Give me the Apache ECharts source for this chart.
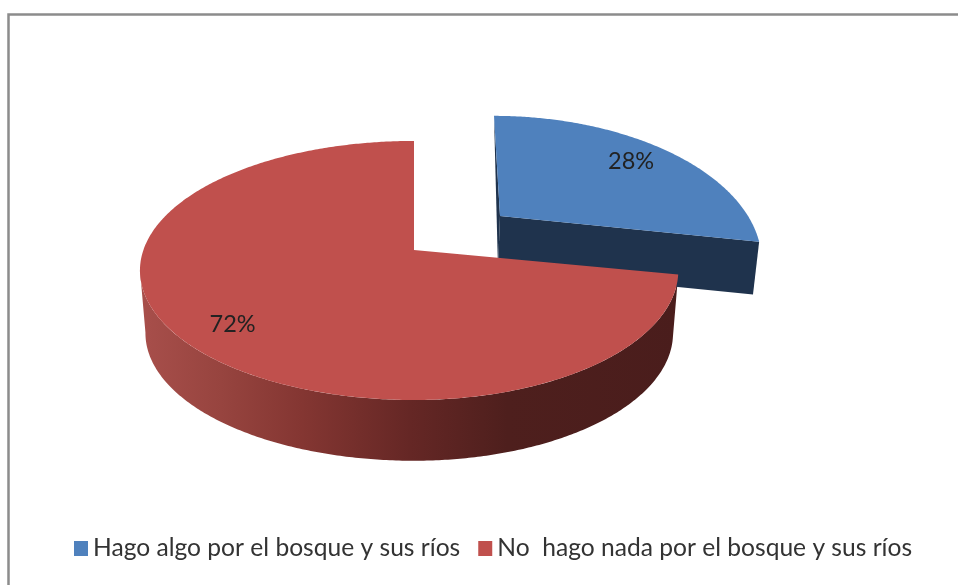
<!DOCTYPE html>
<html><head><meta charset="utf-8">
<style>html,body{margin:0;padding:0;background:#fff}#c{width:958px;height:585px}</style>
<script src="https://cdn.jsdelivr.net/npm/echarts@6/dist/echarts.min.js"></script>
</head><body><div id="c"></div>
<script>
var categories = ['Hago algo por el bosque y sus ríos', 'No  hago nada por el bosque y sus ríos'];
var values = [28, 72];
var labels = ['28%', '72%'];
var colors = ['#4f81bd', '#c0504d'];

// Projection of each slice's disc (layout only; angles come from values)
var discs = [
  {ax:500, ay:216, a:130, k:0.298, bL:248, bR:248, skew:-6, depth:53, dx:-2, sx:0.984, labelR:0.81},
  {ax:414, ay:250, a:126.3, k:0.158, bL:270.6, bR:261, skew:0, depth:63, dx:0, sx:0.98, labelR:0.80}
];
var total = values.reduce(function(s,v){return s+v;},0);
var starts = [], acc = 0;
values.forEach(function(v){ starts.push(acc/total*Math.PI*2); acc += v; });

function rim(d, t, r, lower){
  var u = Math.sin(t)*r, v = Math.cos(t)*r, w = 1 + d.k*v;
  var x = (u<0?d.bL:d.bR)*u/w + d.skew*v, y = -d.a*v/w;
  if(lower){ return [d.ax + d.dx + x*d.sx, d.ay + d.depth + y*0.985]; }
  return [d.ax + x, d.ay + y];
}
function arc(d, t0, t1, lower){
  var pts = [], n = Math.max(2, Math.ceil(Math.abs(t1-t0)/0.01));
  for(var i=0;i<=n;i++){ pts.push(rim(d, t0+(t1-t0)*i/n, 1, lower)); }
  return pts;
}
function poly(points, fill, z){
  return {type:'polygon', z2:z, shape:{points:points}, style:{fill:fill, stroke:null}};
}
function label(i){
  var d = discs[i], mid = starts[i] + values[i]/total*Math.PI;
  var p = rim(d, mid, d.labelR);
  return {type:'text', z2:10, style:{x:p[0], y:p[1] + 4, text:labels[i], align:'center', verticalAlign:'middle',
    font:'23.5px Lato', fill:'#222'}};
}
var redWall = new echarts.graphic.LinearGradient(140,0,680,0,[
  {offset:0,color:'#a84f4b'},{offset:0.15,color:'#97443f'},{offset:0.3,color:'#843632'},
  {offset:0.5,color:'#652725'},{offset:0.68,color:'#4e1f1d'},{offset:1,color:'#4a1d1c'}],true);

function renderBlue(){
  var d = discs[0], t0 = starts[0], t1 = starts[0] + values[0]/total*Math.PI*2;
  var top = arc(d,t0,t1);
  var apex = [d.ax,d.ay], apexLow = [d.ax+d.dx,d.ay+d.depth];
  return {type:'group', children:[
    poly([rim(d,t0,1), apexLow, apex], '#1f334d', 1),
    poly([apex, rim(d,t1,1), rim(d,t1,1,true), apexLow], '#1f334d', 2),
    poly([apex].concat(top), colors[0], 3),
    label(0)
  ]};
}
function renderRed(){
  var d = discs[1], t0 = starts[1], t1 = Math.PI*2;
  var top = arc(d,t0,t1);
  var wallEnd = t0 + 2.8;
  var wall = arc(d,t0,wallEnd).concat(arc(d,wallEnd,t0,true));
  return {type:'group', children:[
    poly(wall, redWall, 1),
    poly([[d.ax,d.ay]].concat(top), colors[1], 3),
    label(1)
  ]};
}
var chart = echarts.init(document.getElementById('c'), null, {renderer:'canvas'});
chart.setOption({
  animation:false,
  backgroundColor:'#fff',
  graphic:[{type:'rect', silent:true, z:-1, shape:{x:8.5,y:14.5,width:980,height:600},
    style:{fill:'#fff', stroke:'#8c8c8c', lineWidth:2.5}}],
  legend:{
    left:74, top:536, padding:0, selectedMode:false, icon:'rect', itemWidth:14, itemHeight:15, itemGap:18,
    textStyle:{fontFamily:'Lato', fontSize:24.6, color:'#333'},
    data:categories
  },
  series:[
    {type:'custom', name:categories[0], coordinateSystem:'none', itemStyle:{color:colors[0]},
     data:[[values[0]]], renderItem:renderBlue, silent:true},
    {type:'custom', name:categories[1], coordinateSystem:'none', itemStyle:{color:colors[1]},
     data:[[values[1]]], renderItem:renderRed, silent:true}
  ]
});
</script></body></html>
